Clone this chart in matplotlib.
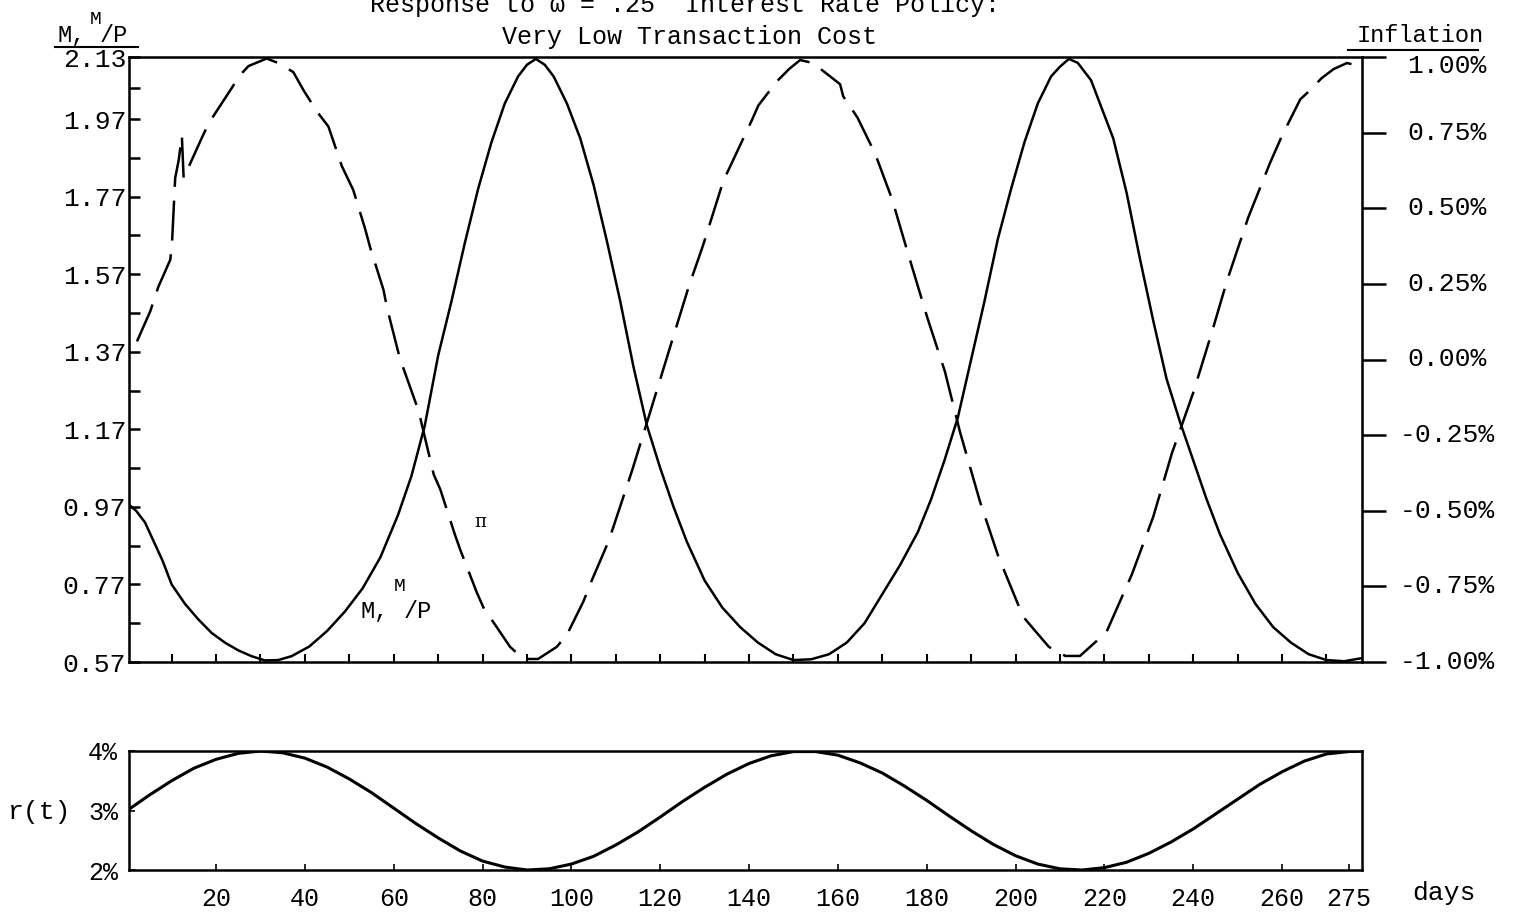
import matplotlib
matplotlib.use("Agg")
import matplotlib.pyplot as plt
from matplotlib.lines import Line2D
from matplotlib.transforms import blended_transform_factory

plt.rcParams['font.family'] = ['Liberation Mono', 'DejaVu Sans Mono']

# M, M/P  (solid line, left scale)
m_days = [0, 2, 4, 6, 8, 10,
          13, 16, 19, 22, 25, 28, 31, 34, 37,
          41, 45, 49, 53, 57, 61,
          64, 67, 70, 73, 76, 79, 82, 85, 88,
          90, 92, 94, 96, 99, 102, 105, 108, 111, 114, 117, 120, 123, 126,
          130, 134, 138, 142, 146, 150, 154, 158, 162, 166, 170, 174, 178,
          181, 184, 187, 190, 193, 196, 199, 202, 205, 208,
          210, 212, 214, 217, 219, 222, 225, 228, 231, 234, 237, 240, 243, 246,
          250, 254, 258, 262, 266, 270, 274, 278]
m_vals = [0.98, 0.96, 0.93, 0.88, 0.83, 0.77,
          0.72, 0.68, 0.645, 0.62, 0.60, 0.585, 0.574, 0.575, 0.585,
          0.61, 0.65, 0.70, 0.76, 0.84, 0.95,
          1.05, 1.18, 1.36, 1.50, 1.65, 1.79, 1.91, 2.01, 2.08,
          2.11, 2.125, 2.11, 2.08, 2.01, 1.92, 1.80, 1.655, 1.50, 1.33, 1.18, 1.07, 0.97, 0.88,
          0.78, 0.71, 0.66, 0.62, 0.59, 0.575, 0.577, 0.59, 0.62, 0.67, 0.745, 0.82, 0.905,
          0.99, 1.09, 1.20, 1.35, 1.50, 1.66, 1.79, 1.91, 2.01, 2.08,
          2.105, 2.125, 2.115, 2.07, 2.01, 1.92, 1.78, 1.61, 1.45, 1.30, 1.19, 1.09, 0.99, 0.90,
          0.80, 0.72, 0.66, 0.62, 0.59, 0.575, 0.572, 0.58]

# inflation pi (dashed line, right scale, %)
pi_days = [2.2, 5.2, 7.0, 9.7, 10.1, 10.8, 11.6, 12.3, 12.7, 16.4, 18.3, 23.2,
           25.4, 27.3, 31.4, 34.0, 37.4, 39.7, 42.7, 45.3, 48.3, 50.9, 53.6,
           54.7, 57.7, 58.5, 61.1, 62.2, 65.6, 69.0, 70.5, 73.8, 75.0, 78.7,
           80.2, 86.2, 89.2, 92.5, 96.7, 99.0, 102.7, 104.6, 108.4, 113.6,
           117.4, 122.2, 126.4, 129.7, 134.2, 140.6, 142.1, 146.3, 149.0,
           151.5, 154.4, 160.5, 161.2, 164.4, 168.4, 172.2, 175.8, 180.1,
           184.1, 187.5, 192.0, 196.1, 201.7, 204.0, 207.5, 211.2, 214.5,
           218.3, 220.5, 222.0, 226.2, 231.0, 235.2, 240.0, 244.2, 247.6,
           252.4, 257.3, 260.0, 264.1, 266.3, 268.9, 271.6, 274.6, 277.6]
pi_vals = [0.06, 0.16, 0.24, 0.33, 0.39, 0.60, 0.66, 0.74, 0.60, 0.72, 0.78, 0.89,
           0.94, 0.97, 0.995, 0.98, 0.95, 0.89, 0.82, 0.77, 0.64, 0.56, 0.43,
           0.37, 0.23, 0.17, 0.02, -0.03, -0.17, -0.38, -0.43, -0.58, -0.63, -0.77,
           -0.82, -0.95, -0.99, -0.99, -0.95, -0.91, -0.80, -0.73, -0.60, -0.37,
           -0.19, 0.04, 0.24, 0.38, 0.59, 0.79, 0.84, 0.92, 0.96,
           0.99, 0.98, 0.91, 0.87, 0.80, 0.68, 0.53, 0.35, 0.14,
           -0.04, -0.24, -0.47, -0.65, -0.85, -0.89, -0.95, -0.98, -0.98,
           -0.93, -0.90, -0.85, -0.71, -0.52, -0.31, -0.11, 0.09, 0.26,
           0.47, 0.65, 0.74, 0.86, 0.89, 0.93, 0.96, 0.98, 0.97]

# interest rate r(t) (%)
r_days = [0, 5, 10, 15, 20, 25, 30, 35, 40, 45, 50, 55, 60, 65, 70, 75, 80, 85,
          90, 95, 100, 105, 110, 115, 120, 125, 130, 135, 140, 145, 150, 155,
          160, 165, 170, 175, 180, 185, 190, 195, 200, 205, 210, 215, 220, 225,
          230, 235, 240, 245, 250, 255, 260, 265, 270, 275, 278]
r_vals = [3.00, 3.26, 3.50, 3.71, 3.86, 3.96, 4.00, 3.97, 3.88, 3.73, 3.53,
          3.30, 3.04, 2.78, 2.54, 2.32, 2.15, 2.05, 2.00, 2.02, 2.10, 2.23,
          2.42, 2.64, 2.89, 3.15, 3.39, 3.61, 3.79, 3.92, 3.99, 3.99, 3.93,
          3.80, 3.63, 3.41, 3.17, 2.91, 2.66, 2.43, 2.24, 2.10, 2.02, 2.00,
          2.04, 2.13, 2.28, 2.47, 2.69, 2.94, 3.19, 3.44, 3.65, 3.83, 3.95,
          3.99, 4.00]

left_ticks = [2.13, 1.97, 1.77, 1.57, 1.37, 1.17, 0.97, 0.77, 0.57]
left_minor = [2.05, 1.87, 1.67, 1.47, 1.27, 1.07, 0.87, 0.67]
right_ticks = [1.0, 0.75, 0.5, 0.25, 0.0, -0.25, -0.5, -0.75, -1.0]
right_labels = ['1.00%', '0.75%', '0.50%', '0.25%', '0.00%',
                '-0.25%', '-0.50%', '-0.75%', '-1.00%']
day_ticks = [20, 40, 60, 80, 100, 120, 140, 160, 180, 200, 220, 240, 260, 275]
r_ticks = [2, 3, 4]
r_labels = ['2%', '3%', '4%']

W, H = 1516, 917
def fx(x):
    return x / W
def fy(y):
    return 1 - y / H

fig = plt.figure(figsize=(W / 100, H / 100), dpi=100)
lw = 1.8

# ---- top panel
ax = fig.add_axes([fx(129), fy(662), (1362 - 129) / W, (662 - 57) / H])
ax.plot(m_days, m_vals, color='k', lw=lw)
ax.set_xlim(0.4, 278)
ax.set_ylim(0.57, 2.13)
ax.set_yticks(left_ticks)
ax.set_yticklabels(['%.2f' % v for v in left_ticks])
ax.set_yticks(left_minor, minor=True)
ax.tick_params(axis='y', which='both', direction='in', length=8, width=lw,
               labelsize=19, pad=2)
ax.set_xticks(list(range(10, 278, 10)))
ax.tick_params(axis='x', direction='in', length=6, width=1.5, labelbottom=False)
for s in ax.spines.values():
    s.set_linewidth(lw)

ax2 = ax.twinx()
ax2.plot(pi_days, pi_vals, color='k', lw=lw, dashes=(16, 5.5))
ax2.set_ylim(-1, 1)
ax2.set_yticks(right_ticks)
ax2.tick_params(axis='y', direction='out', length=17, width=lw, labelright=False)
trans = blended_transform_factory(fig.transFigure, ax2.transData)
for v, lab in zip(right_ticks, right_labels):
    dy = -0.03 if v == 1.0 else 0
    ax2.text(fx(1447), v + dy, lab, transform=trans, ha='center', va='center',
             fontsize=19)

# labels inside the plot
ax.text(52.5, 0.70, 'M,', fontsize=17, ha='left', va='center')
ax.text(60.0, 0.765, 'M', fontsize=14, ha='left', va='center')
ax.text(62.3, 0.70, '/P', fontsize=17, ha='left', va='center')
ax.text(79.5, 0.93, 'π', fontsize=13, ha='center', va='center',
        family='DejaVu Serif')

# ---- bottom panel
axb = fig.add_axes([fx(129), fy(870), (1362 - 129) / W, (870 - 751) / H])
axb.plot(r_days, r_vals, color='k', lw=2.2)
axb.set_xlim(0.4, 278)
axb.set_ylim(2, 4)
axb.set_yticks(r_ticks)
axb.set_yticklabels(r_labels)
axb.tick_params(axis='y', direction='in', length=4, width=1.2, labelsize=18,
                pad=8)
axb.set_xticks(day_ticks)
axb.set_xticklabels([str(d) for d in day_ticks])
axb.tick_params(axis='x', direction='in', length=4, width=1.2, labelsize=18,
                pad=12)
for s in axb.spines.values():
    s.set_linewidth(lw)

# ---- titles and axis names
fig.text(fx(685), fy(5), 'Response to ω = .25  Interest Rate Policy:',
         ha='center', va='center', fontsize=18)
fig.text(fx(690), fy(37), 'Very Low Transaction Cost', ha='center',
         va='center', fontsize=18)

fig.text(fx(57), fy(35), 'M,', ha='left', va='center', fontsize=17)
fig.text(fx(90), fy(20), 'M', ha='left', va='center', fontsize=14)
fig.text(fx(100), fy(35), '/P', ha='left', va='center', fontsize=17)
fig.add_artist(Line2D([fx(55), fx(138)], [fy(47), fy(47)], color='k', lw=1.5))

fig.text(fx(1420), fy(36), 'Inflation', ha='center', va='center', fontsize=17)
fig.add_artist(Line2D([fx(1348), fx(1478)], [fy(50), fy(50)], color='k', lw=1.5))

fig.text(fx(40), fy(812), 'r(t)', ha='center', va='center', fontsize=19)
fig.text(fx(1444), fy(893), 'days', ha='center', va='center', fontsize=19)

fig.savefig('out.png', dpi=100)
